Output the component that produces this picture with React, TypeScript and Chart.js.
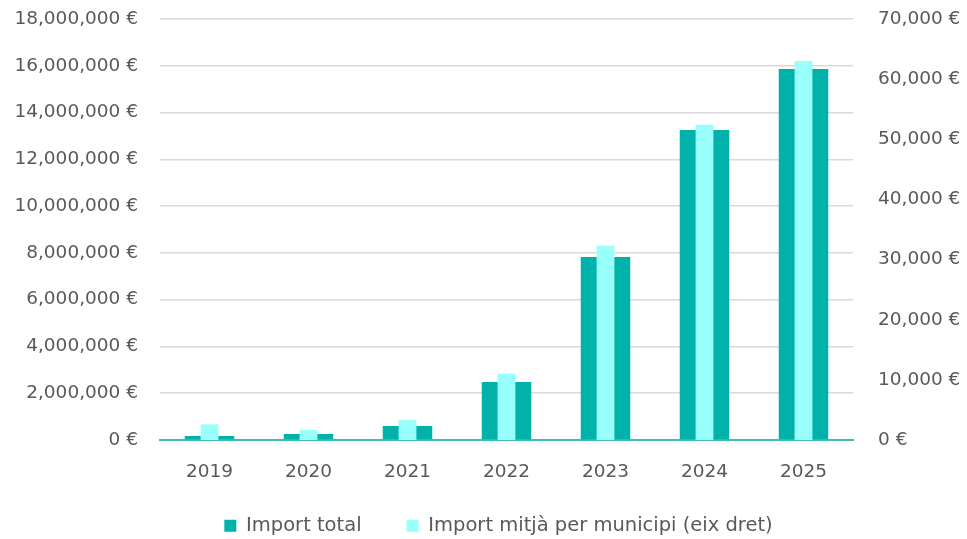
import { useEffect, useRef } from 'react';
import { Chart, registerables } from 'chart.js';

Chart.register(...registerables);

const years = ['2019', '2020', '2021', '2022', '2023', '2024', '2025'];
const importTotal = [175000, 260000, 600000, 2480000, 7820000, 13250000, 15860000];
const importMitja = [2600, 1700, 3300, 11000, 32300, 52400, 63000];
const leftMax = 18000000;
const leftStep = 2000000;
const rightMax = 70000;
const rightStep = 10000;

const DARK = '#00b2aa';
const LIGHT = '#99fffa';
const TEXT = '#595959';
const FONT = 'DejaVu Sans';

const fmt = (v: number | string) => Number(v).toLocaleString('en-US') + ' €';

const legendPlacePlugin = {
  id: 'legendPlace',
  beforeInit(chart: any) {
    const legend = chart.legend;
    if (!legend) return;
    const origFit = legend.fit;
    legend.fit = function () {
      origFit.bind(legend)();
      legend.height = 49;
    };
  },
  afterLayout(chart: any) {
    const legend = chart.legend;
    if (!legend) return;
    legend.top = 471;
    legend.bottom = 539;
    legend.height = 68;
    legend.left = 15;
    legend.right = chart.width + 15;
  },
};

const fixVerticalPadding = (s: any, w: number) => {
  s.width = w;
  s.paddingTop = 19;
  s.paddingBottom = 0;
};

export default function App() {
  const ref = useRef<HTMLCanvasElement | null>(null);

  useEffect(() => {
    document.body.style.margin = '0';
    if (!ref.current) return;
    const chart = new Chart(ref.current, {
      type: 'bar',
      plugins: [legendPlacePlugin],
      data: {
        labels: years,
        datasets: [
          {
            label: 'Import total',
            data: importTotal,
            backgroundColor: DARK,
            yAxisID: 'y',
            grouped: false,
            barPercentage: 0.5,
            categoryPercentage: 1,
            order: 1,
          },
          {
            label: 'Import mitjà per municipi (eix dret)',
            data: importMitja,
            backgroundColor: LIGHT,
            yAxisID: 'y1',
            grouped: false,
            barPercentage: 0.18,
            categoryPercentage: 1,
            order: 0,
          },
        ],
      },
      options: {
        responsive: false,
        animation: false,
        layout: { padding: { top: 0, left: 0, right: 0, bottom: 0 } },
        plugins: {
          tooltip: { enabled: false },
          legend: {
            position: 'bottom',
            labels: {
              color: TEXT,
              font: { family: FONT, size: 19.5 },
              boxWidth: 12,
              boxHeight: 12,
              padding: 45,
              sort: (a: any, b: any) => a.datasetIndex - b.datasetIndex,
            },
          },
        },
        scales: {
          x: {
            grid: { display: false },
            border: { display: true, color: '#3fbdb5', width: 2 },
            ticks: { color: TEXT, font: { family: FONT, size: 18.5 }, padding: 13 },
            afterFit: (s: any) => {
              s.height = 50;
            },
          },
          y: {
            position: 'left',
            min: 0,
            max: leftMax,
            grid: { color: '#d9d9d9', lineWidth: 1.5, drawTicks: false },
            border: { display: false },
            ticks: {
              stepSize: leftStep,
              color: TEXT,
              font: { family: FONT, size: 18.5 },
              padding: 22,
              callback: (v: any) => fmt(v),
            },
            afterFit: (s: any) => fixVerticalPadding(s, 160),
          },
          y1: {
            position: 'right',
            min: 0,
            max: rightMax,
            grid: { display: false, drawTicks: false },
            border: { display: false },
            ticks: {
              stepSize: rightStep,
              color: TEXT,
              font: { family: FONT, size: 18.5 },
              padding: 25,
              callback: (v: any) => fmt(v),
            },
            afterFit: (s: any) => fixVerticalPadding(s, 114),
          },
        },
      },
    });
    return () => chart.destroy();
  }, []);

  return (
    <div style={{ position: 'absolute', left: 0, top: 0, width: 967, height: 539 }}>
      <canvas ref={ref} width={967} height={539} />
    </div>
  );
}
